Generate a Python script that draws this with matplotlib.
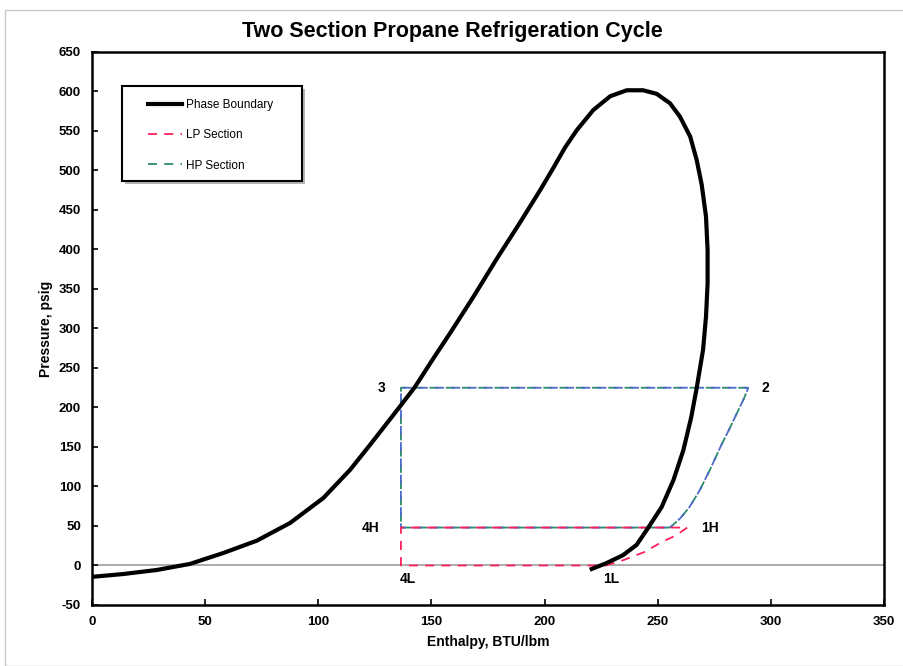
import matplotlib
matplotlib.use("Agg")
import matplotlib.pyplot as plt
from matplotlib.patches import Rectangle

plt.rcParams['font.family'] = ['Liberation Sans', 'DejaVu Sans']
plt.rcParams['axes.unicode_minus'] = False

# phase boundary (enthalpy BTU/lbm, pressure psig)
phase_h = [0.6, 13.8, 28.6, 43.3, 58, 72.8, 87.5, 102.2, 114, 122.8, 136,
           142.7, 150.8, 158.2, 168.5, 178.8, 189.1, 198, 204, 209, 214.2,
           221.5, 229, 236.3, 243.5, 249.5, 255.4, 259.8, 264.3, 267.2, 269.4,
           271.3, 272, 272, 271.3, 270, 267.2, 264.8, 261.3, 256.9, 251.7,
           245.7, 240.6, 234.6, 227.3, 220.8]
phase_p = [-14.2, -10.8, -5.7, 2, 15.8, 31.4, 53.8, 85.4, 121, 152.5, 201,
           226, 262, 294, 340, 388, 434, 475, 504, 529, 551,
           576.5, 594, 601.5, 601.5, 597, 585, 568, 543, 513, 482,
           441.5, 399, 357, 315, 273, 225, 188, 146, 108, 74,
           47.5, 26, 13, 3, -4.4]

# LP section: 1L -> 1H -> 4H -> 4L -> 1L
lp_h = [227, 235, 244, 252, 258, 263, 136.5, 136.5, 227]
lp_p = [0, 7, 17, 30, 38, 48, 48, 0, 0]

# HP section: 1H(sat) -> 2 -> 3 -> 4H -> back
hp_h = [255.4, 260, 264, 268.5, 273, 278, 282, 285.5, 288, 290, 136.5, 136.5, 255.4]
hp_p = [48, 60, 74, 95, 121, 152, 175, 196, 211, 225, 225, 48, 48]

pt_labels = ["3", "2", "4H", "1H", "4L", "1L"]
pt_h = [136.5, 290, 136.5, 263, 136.5, 227]
pt_p = [225, 225, 48, 48, 0, 0]

fig = plt.figure(figsize=(9.04, 6.66), dpi=100)
ax = fig.add_axes([0.1018, 0.0916, 0.8762, 0.8304])

fig.patches.append(Rectangle((5 / 904, 0), 1, 1 - 10 / 666, transform=fig.transFigure,
                             fill=False, edgecolor="#c8c8c8", lw=1.0))

ax.axhline(0, color="#a6a6a6", lw=1.3, zorder=1)

ax.plot(phase_h, phase_p, color="black", lw=3, label="Phase Boundary", zorder=4,
        solid_joinstyle="round")
ax.plot(lp_h, lp_p, color="#ff1f5a", lw=1.3, ls=(0, (5, 4)), label="LP Section", zorder=3)
ax.plot(hp_h, hp_p, color="#2a8a6a", lw=1.3, ls=(0, (5, 4)), label="HP Section", zorder=2)
ax.plot(hp_h, hp_p, color="#4a6cc8", lw=1.3, ls=(3, (5, 4)), zorder=2)

offsets = {"3": (-14, 0), "2": (12, 0), "4H": (-22, 0), "1H": (16, 0),
           "4L": (5, -10), "1L": (4, -10)}
for lab, h, p in zip(pt_labels, pt_h, pt_p):
    dx, dy = offsets[lab]
    ax.annotate(lab, (h, p), xytext=(dx, dy), textcoords="offset points",
                ha="center", va="center", fontsize=10, fontweight="bold")

ax.set_xlim(0, 350)
ax.set_ylim(-50, 650)
ax.set_xticks(range(0, 351, 50))
ax.set_yticks(range(-50, 651, 50))
ax.tick_params(direction="in", length=4, width=1.2, labelsize=9.5, pad=8)
for t in ax.get_xticklabels() + ax.get_yticklabels():
    t.set_fontweight("bold")
for s in ax.spines.values():
    s.set_linewidth(1.8)

ax.set_xlabel("Enthalpy, BTU/lbm", fontsize=10, fontweight="bold", labelpad=5)
ax.set_ylabel("Pressure, psig", fontsize=10, fontweight="bold", labelpad=4)
fig.suptitle("Two Section Propane Refrigeration Cycle", fontsize=15.5,
             fontweight="bold", y=0.968)

# legend frame drawn by hand (wide side padding like the original)
x0, y0 = (122 - 92) / 792, (605 - 181) / 553
w, h = 180 / 792, 95 / 553
ax.add_patch(Rectangle((x0 + 3 / 792, y0 - 3 / 553), w, h, transform=ax.transAxes,
                       facecolor="#b4b4b4", edgecolor="none", zorder=5))
ax.add_patch(Rectangle((x0, y0), w, h, transform=ax.transAxes,
                       facecolor="white", edgecolor="black", lw=1.5, zorder=6))
leg = ax.legend(loc="upper left", bbox_to_anchor=((148 - 92) / 792, (605 - 99) / 553),
                borderaxespad=0, borderpad=0, fontsize=8.5, handlelength=2.9,
                handletextpad=0.3, labelspacing=1.55, frameon=False)
leg.set_zorder(7)

fig.savefig("out.png", dpi=100)
